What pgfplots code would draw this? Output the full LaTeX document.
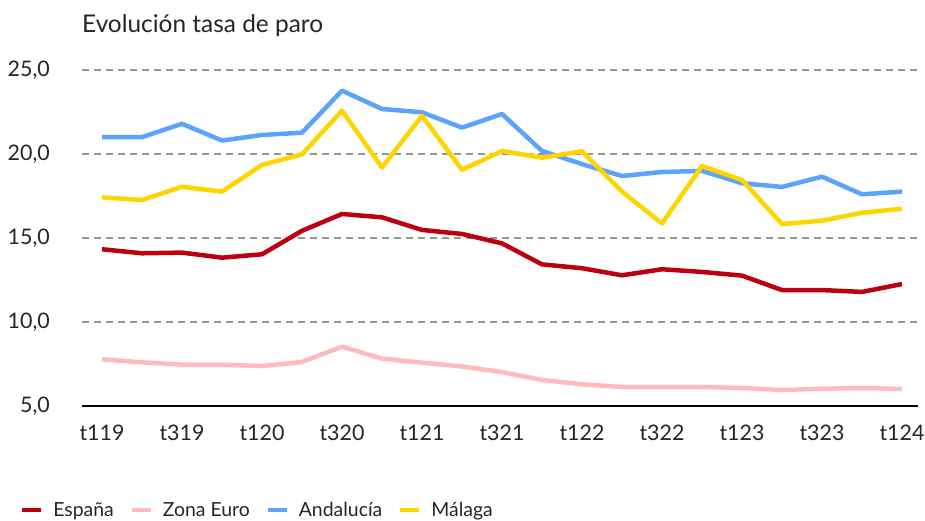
\documentclass[border=0pt]{standalone}
\usepackage{pgfplots}
\pgfplotsset{compat=1.18}
\usepackage{fontspec}
\setmainfont{Lato}
\definecolor{cEsp}{RGB}{188,0,16}
\definecolor{cEur}{RGB}{255,187,187}
\definecolor{cAnd}{RGB}{92,162,255}
\definecolor{cMal}{RGB}{255,213,0}
\definecolor{cGrid}{RGB}{150,150,150}
\begin{document}
\begin{tikzpicture}[x=1bp,y=1bp]
\path[use as bounding box] (0,0) rectangle (925,521);
\node[anchor=base west, inner sep=0pt, font=\fontsize{24.5}{28}\selectfont, text=black!85] at (82,488) {Evolución tasa de paro};
\begin{axis}[
  at={(82bp,115bp)}, anchor=south west,
  scale only axis, width=836bp, height=336bp,
  xmin=-0.5, xmax=20.4, ymin=5, ymax=25,
  xtick={0,2,...,20},
  xticklabels={t119,t319,t120,t320,t121,t321,t122,t322,t123,t323,t124},
  ytick={5,10,15,20,25},
  /pgf/number format/.cd, fixed, fixed zerofill, precision=1, use comma, assume math mode=true,
  /pgfplots/.cd,
  major tick length=0pt,
  axis x line*=bottom, axis y line*=left,
  x axis line style={black, line width=2.2bp},
  y axis line style={draw=none},
  ymajorgrids,
  grid style={cGrid, line width=2.6bp, dash pattern=on 7bp off 5bp},
  tick label style={font=\fontsize{21.5}{25}\selectfont, text=black!85},
  yticklabel style={anchor=east, inner sep=0pt, xshift=-32bp},
  xticklabel style={anchor=north, inner sep=0pt, yshift=-19bp},
  legend columns=4,
  legend style={at={(-0.074,-0.31)}, anchor=west, draw=none, fill=none,
    font=\fontsize{19.5}{24}\selectfont, text=black!85,
    nodes={inner sep=0pt},
    /tikz/every odd column/.append style={column sep=10bp},
    /tikz/every even column/.append style={column sep=16bp},
    inner sep=0pt},
  legend cell align=left,
  legend image code/.code={\draw[#1, line width=4bp] (0bp,0bp) -- (19bp,0bp);},
  every axis plot/.append style={line width=4.5bp, line join=round},
]
\addplot[cEsp] coordinates {(0,14.33)(1,14.09)(2,14.13)(3,13.83)(4,14.03)(5,15.43)(6,16.43)(7,16.23)(8,15.48)(9,15.24)(10,14.68)(11,13.43)(12,13.2)(13,12.78)(14,13.14)(15,12.98)(16,12.76)(17,11.9)(18,11.9)(19,11.79)(20,12.26)};
\addlegendentry{España}
\addplot[cEur] coordinates {(0,7.78)(1,7.6)(2,7.46)(3,7.46)(4,7.38)(5,7.62)(6,8.53)(7,7.82)(8,7.58)(9,7.35)(10,7.02)(11,6.55)(12,6.29)(13,6.13)(14,6.13)(15,6.13)(16,6.07)(17,5.95)(18,6.03)(19,6.07)(20,6.01)};
\addlegendentry{Zona Euro}
\addplot[cAnd] coordinates {(0,21.0)(1,21.0)(2,21.8)(3,20.8)(4,21.13)(5,21.27)(6,23.77)(7,22.68)(8,22.48)(9,21.57)(10,22.38)(11,20.18)(12,19.4)(13,18.69)(14,18.93)(15,18.99)(16,18.26)(17,18.04)(18,18.65)(19,17.6)(20,17.76)};
\addlegendentry{Andalucía}
\addplot[cMal] coordinates {(0,17.42)(1,17.26)(2,18.05)(3,17.76)(4,19.35)(5,19.98)(6,22.58)(7,19.2)(8,22.28)(9,19.05)(10,20.18)(11,19.78)(12,20.16)(13,17.76)(14,15.87)(15,19.29)(16,18.45)(17,15.83)(18,16.03)(19,16.5)(20,16.74)};
\addlegendentry{Málaga}
\end{axis}
\end{tikzpicture}
\end{document}
